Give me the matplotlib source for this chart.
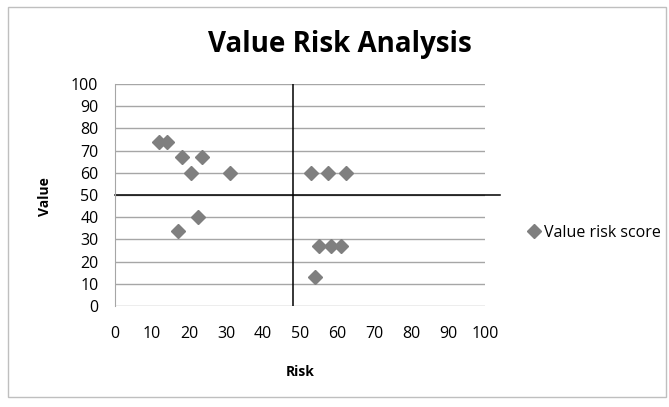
import matplotlib.pyplot as plt
from matplotlib.patches import Rectangle

# Data
risk = [12, 14, 18, 23.5, 20.5, 31, 22.5, 17, 53, 57.5, 62.5, 55, 58.5, 61, 54]
value = [74, 74, 67, 67, 60, 60, 40, 34, 60, 60, 60, 27, 27, 27, 13]
x_ticks = list(range(0, 101, 10))
y_ticks = list(range(0, 101, 10))
risk_split = 48
value_split = 50

plt.rcParams['font.family'] = ['Open Sans', 'DejaVu Sans']

fig = plt.figure(figsize=(6.69, 4.07), dpi=100)
ax = fig.add_axes([0.172, 0.248, 0.553, 0.546])

# Outer chart border
fig.patches.append(Rectangle((0.012, 0.025), 0.984, 0.958, transform=fig.transFigure,
                             fill=False, edgecolor='#bfbfbf', linewidth=1))

ax.set_xlim(0, 100)
ax.set_ylim(0, 100)
ax.set_xticks(x_ticks)
ax.set_yticks(y_ticks)
ax.tick_params(length=0, labelsize=11.5, pad=12)
ax.tick_params(axis='x', pad=14)

# Gridlines
for y in y_ticks:
    ax.axhline(y, color='#a6a6a6', linewidth=1, zorder=1)

for side in ['top', 'right', 'bottom']:
    ax.spines[side].set_visible(False)
ax.spines['left'].set_color('#a6a6a6')

# Quadrant lines
ax.axvline(risk_split, color='black', linewidth=1.1, zorder=2)
ax.plot([0, 104], [value_split, value_split], color='black', linewidth=1.1,
        clip_on=False, zorder=2)

ax.plot(risk, value, linestyle='none', marker='D', markersize=7.5,
        color='#7f7f7f', label='Value risk score', zorder=3)

fig.text(0.508, 0.872, 'Value Risk Analysis', fontsize=20, fontweight='bold',
         ha='center', va='baseline')
fig.text(0.449, 0.086, 'Risk', fontsize=10, fontweight='bold', ha='center', va='center')
fig.text(0.067, 0.516, 'Value', fontsize=10, fontweight='bold', ha='center', va='center',
         rotation=90)

ax.legend(loc='center left', bbox_to_anchor=(1.09, 0.33), frameon=False,
          fontsize=11.5, handletextpad=0.1, handlelength=1.0, borderpad=0)

fig.savefig('out.png', dpi=100)
